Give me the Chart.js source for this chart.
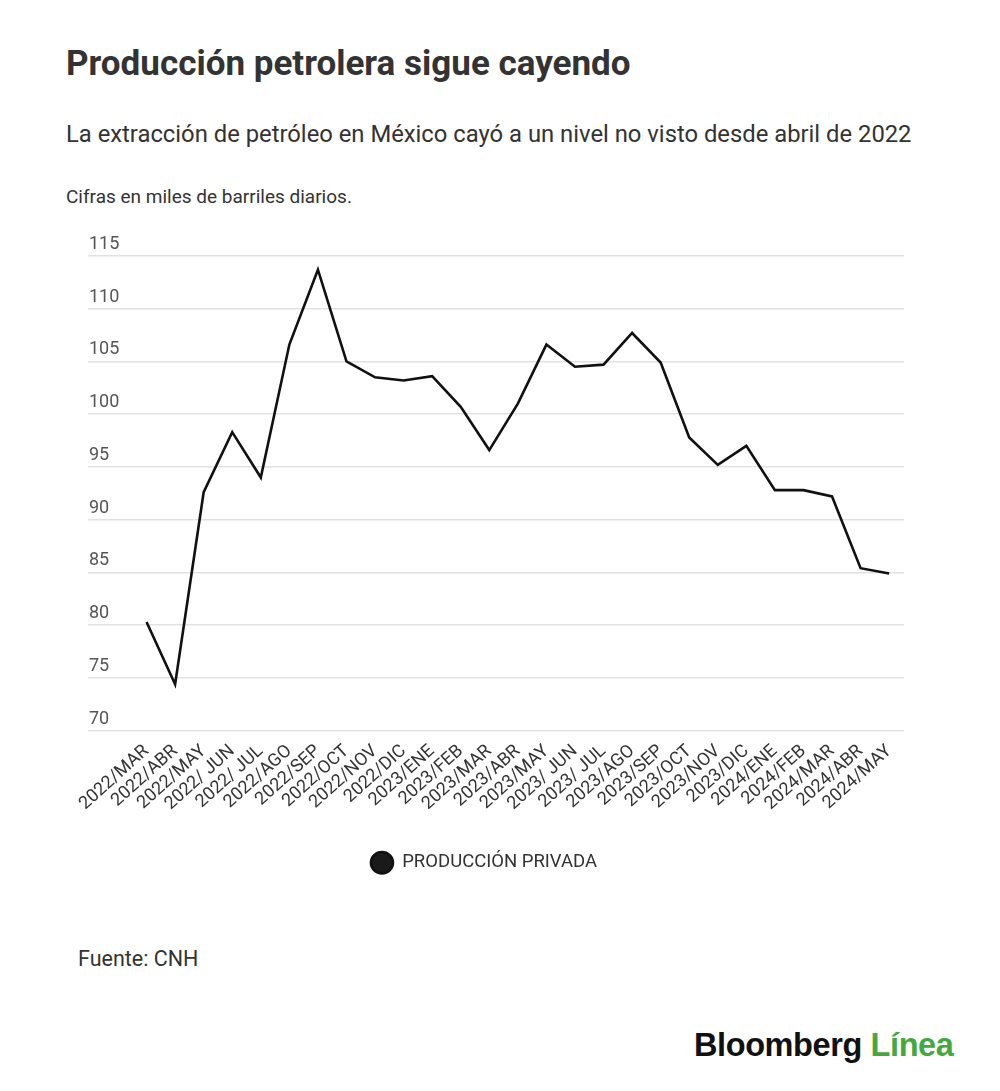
<!DOCTYPE html>
<html lang="es">
<head>
<meta charset="utf-8">
<title>Producción petrolera sigue cayendo</title>
<script src="https://cdn.jsdelivr.net/npm/chart.js@4.4.1/dist/chart.umd.min.js"></script>
<style>
  body { margin: 0; background: #fff; font-family: Roboto, "Noto Sans", sans-serif; color: #333; }
  #page { position: relative; width: 1000px; height: 1091px; overflow: hidden; }
  .txt { position: absolute; margin: 0; line-height: 1; white-space: nowrap; }
  #title { left: 66px; top: 46px; font-size: 35px; font-weight: 700; color: #333; }
  #subtitle { left: 66px; top: 123px; font-size: 23.8px; font-weight: 400; color: #333; }
  #note { left: 66px; top: 187px; font-size: 19px; color: #333; }
  #source { left: 78px; top: 948px; font-size: 21.5px; color: #333; }
  #logo { left: 694px; top: 1029px; font-family: "Liberation Sans", Arial, sans-serif; font-size: 32.5px; font-weight: 700; letter-spacing: -0.4px; color: #111; }
  #logo span { color: #44a840; }
  #chartBox { position: absolute; left: 0; top: 230px; width: 1000px; height: 652px; }
</style>
</head>
<body>
<div id="page">
  <h1 class="txt" id="title">Producción petrolera sigue cayendo</h1>
  <p class="txt" id="subtitle">La extracción de petróleo en México cayó a un nivel no visto desde abril de 2022</p>
  <p class="txt" id="note">Cifras en miles de barriles diarios.</p>
  <div id="chartBox"><canvas id="oilChart"></canvas></div>
  <p class="txt" id="source">Fuente: CNH</p>
  <div class="txt" id="logo">Bloomberg <span>Línea</span></div>
</div>
<script>
// months shown on the x axis
const months = ["2022/MAR", "2022/ABR", "2022/MAY", "2022/ JUN", "2022/ JUL", "2022/AGO", "2022/SEP",
  "2022/OCT", "2022/NOV", "2022/DIC", "2023/ENE", "2023/FEB", "2023/MAR", "2023/ABR", "2023/MAY",
  "2023/ JUN", "2023/ JUL", "2023/AGO", "2023/SEP", "2023/OCT", "2023/NOV", "2023/DIC",
  "2024/ENE", "2024/FEB", "2024/MAR", "2024/ABR", "2024/MAY"];

// private production, thousand barrels per day
const privada = [80.3, 74.4, 92.6, 98.3, 94.0, 106.6, 113.7, 105.0, 103.5, 103.2, 103.6, 100.7, 96.6,
  101.0, 106.6, 104.5, 104.7, 107.7, 104.9, 97.8, 95.2, 97.0, 92.8, 92.8, 92.2, 85.4, 84.9];

const seriesName = "PRODUCCIÓN PRIVADA";
const yMin = 70, yMax = 115, yStep = 5;

const points = privada.map((v, i) => ({x: i, y: v}));

// the legend sits a little left of the plot centre in the original
const legendShift = {
  id: "legendShift",
  afterLayout(chart) {
    chart.legend.left -= 11;
    chart.legend.right -= 11;
  }
};

new Chart("oilChart", {
  type: "line",
  data: {
    datasets: [{
      label: seriesName,
      data: points,
      borderColor: "#111",
      backgroundColor: "#1a1a1a",
      borderWidth: 2.6,
      pointRadius: 0,
      tension: 0,
      fill: false
    }]
  },
  plugins: [legendShift],
  options: {
    responsive: true,
    maintainAspectRatio: false,
    animation: false,
    layout: {padding: {top: 26, left: 86, right: 96, bottom: 0}},
    plugins: {
      tooltip: {enabled: false},
      legend: {
        position: "bottom",
        labels: {
          usePointStyle: true,
          pointStyle: "circle",
          pointStyleWidth: 22,
          boxHeight: 15,
          padding: 36.75,
          color: "#333",
          font: {family: "Roboto", size: 18.5}
        }
      }
    },
    scales: {
      x: {
        type: "linear",
        min: -2.05,
        max: 26.52,
        grid: {display: false},
        border: {display: false},
        afterBuildTicks: axis => {
          axis.ticks = months.map((m, i) => ({value: i}));
        },
        ticks: {
          autoSkip: false,
          minRotation: 42,
          maxRotation: 42,
          padding: 2,
          color: "#333",
          font: {family: "Roboto", size: 18},
          callback: v => months[v]
        }
      },
      y: {
        min: yMin,
        max: yMax,
        grid: {color: "#e2e2e2", lineWidth: 1.5, drawTicks: false},
        border: {display: false},
        ticks: {
          stepSize: yStep,
          mirror: true,
          padding: 1,
          labelOffset: -11.5,
          color: "#555",
          font: {family: "Roboto", size: 18}
        }
      }
    }
  }
});
</script>
</body>
</html>
